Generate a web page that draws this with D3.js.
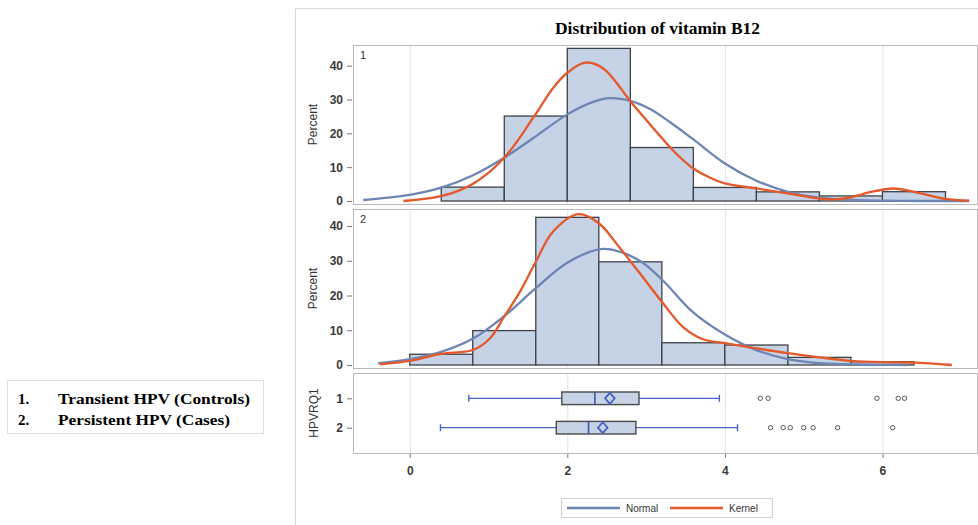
<!DOCTYPE html>
<html>
<head>
<meta charset="utf-8">
<script src="https://cdn.jsdelivr.net/npm/d3@7"></script>
<style>
  body { margin: 0; background: #fff; }
  svg { display: block; }
</style>
</head>
<body>
<svg id="chart" width="978" height="525"></svg>
<script>
const title = "Distribution of vitamin B12";
const xTicks = [0, 2, 4, 6];
const yTicks = [0, 10, 20, 30, 40];
const binWidth = 0.8;

// histogram bins (left edge) and percent per bin
const bins1 = [0.4, 1.2, 2.0, 2.8, 3.6, 4.4, 5.2, 6.0];
const pct1 = [4.1, 25.1, 45.1, 15.8, 4.0, 2.7, 1.5, 2.75];
const bins2 = [0, 0.8, 1.6, 2.4, 3.2, 4.0, 4.8, 5.6];
const pct2 = [3.1, 9.9, 42.5, 29.7, 6.4, 5.75, 2.2, 0.95];

// density curves: [x, percent]
const normal1 = [[-0.59, 0.3], [0, 1.8], [0.41, 4.0], [0.81, 7.7], [1.2, 12.8], [1.57, 18.6], [2.0, 25.6],
  [2.33, 29.3], [2.54, 30.4], [2.8, 29.6], [3.05, 27.2], [3.31, 23.2], [3.6, 18.2], [4.0, 11.1],
  [4.4, 6.0], [4.83, 2.5], [5.2, 1.0], [5.6, 0.3], [6.2, 0.05], [7.1, 0]];
const kernel1 = [[-0.08, 0], [0.41, 1.5], [0.81, 5.2], [1.2, 12.8], [1.57, 24.7], [1.82, 33.4], [2.0, 37.9],
  [2.23, 40.9], [2.46, 39.1], [2.8, 29.5], [3.0, 24.0], [3.2, 18.6], [3.4, 13.6], [3.6, 9.6], [3.8, 7.0],
  [4.0, 5.2], [4.4, 3.7], [4.83, 2.1], [5.2, 0.7], [5.4, 0.5], [5.6, 1.1], [5.84, 2.6], [6.14, 3.7],
  [6.44, 2.5], [6.8, 0.6], [7.1, 0.1]];
const normal2 = [[-0.4, 0.5], [0, 1.7], [0.4, 3.8], [0.81, 7.7], [1.19, 13.9], [1.6, 22.1], [1.99, 29.3],
  [2.4, 33.3], [2.58, 33.1], [2.92, 30.0], [3.21, 24.4], [3.59, 15.3], [4.0, 8.8],
  [4.4, 4.3], [4.8, 1.7], [5.2, 0.5], [5.6, 0.2], [6.3, 0]];
const kernel2 = [[-0.38, 0.2], [0, 1.2], [0.4, 3.2], [0.81, 4.4], [1.02, 7.7], [1.19, 13.6], [1.4, 21.1],
  [1.6, 29.7], [1.82, 38.4], [2.14, 43.4], [2.4, 40.8], [2.67, 33.6], [2.92, 26.4],
  [3.2, 18.2], [3.47, 10.9], [3.72, 7.4], [4.0, 6.3], [4.4, 4.8], [4.8, 3.4], [5.2, 2.2], [5.6, 1.2],
  [6.0, 0.8], [6.4, 0.7], [6.88, 0]];

// box plot by group
const groups = ["1", "2"];
const whiskLo = [0.75, 0.39];
const q1 = [1.93, 1.86];
const median = [2.35, 2.27];
const mean = [2.54, 2.45];
const q3 = [2.91, 2.87];
const whiskHi = [3.93, 4.16];
const outliers = [
  [4.45, 4.55, 5.93, 6.2, 6.28],
  [4.58, 4.74, 4.83, 5.0, 5.12, 5.43, 6.13]
];

const legendItems = ["Normal", "Kernel"];
const groupNames = ["Transient HPV (Controls)", "Persistent HPV (Cases)"];

const Color = {
  bar: "#c6d2e6", barLine: "#3e4248", normal: "#6d85b3", kernel: "#e5582a",
  whisker: "#4564c6", grid: "#e4e4e4", frame: "#b9b9b9", text: "#333"
};
const sans = "'Liberation Sans', Arial, sans-serif";
const serif = "'Liberation Serif', 'Times New Roman', serif";

const svg = d3.select("#chart");
const x = d3.scaleLinear().domain([-0.72, 7.2]).range([353, 977]);

// outer frame
svg.append("path").attr("d", "M295.5,525V8.5H978").attr("fill", "none").attr("stroke", "#d6d6d6");

svg.append("text").attr("x", 555).attr("y", 34)
  .attr("textLength", 205).attr("lengthAdjust", "spacingAndGlyphs")
  .attr("font-family", serif).attr("font-weight", "bold").attr("font-size", 16).text(title);

const panels = [
  { label: "1", top: 45, bottom: 204, zero: 201, ymax: 46.1, bins: bins1, pct: pct1, normal: normal1, kernel: kernel1 },
  { label: "2", top: 209, bottom: 368, zero: 365, ymax: 44.9, bins: bins2, pct: pct2, normal: normal2, kernel: kernel2 }
];

const _grid = (g, top, bottom) =>
  g.append("g").selectAll("line").data(xTicks).enter().append("line")
    .attr("x1", d => x(d) + 0.5).attr("x2", d => x(d) + 0.5)
    .attr("y1", top).attr("y2", bottom)
    .attr("stroke", Color.grid);

const _border = (g, top, bottom) =>
  g.append("rect").attr("x", 353.5).attr("y", top + 0.5)
    .attr("width", 977 - 353).attr("height", bottom - top)
    .attr("fill", "none").attr("stroke", Color.frame);

const _styleAxis = g => {
  g.select(".domain").remove();
  g.selectAll("line").attr("stroke", "#777");
  g.selectAll("text").attr("font-family", sans).attr("font-size", 12)
    .attr("font-weight", "bold").attr("fill", "#3a3a3a");
};

const _vLabel = (text, cx, cy) =>
  svg.append("text").attr("transform", `translate(${cx},${cy}) rotate(-90)`)
    .attr("text-anchor", "middle").attr("font-family", sans).attr("font-size", 12)
    .attr("fill", Color.text).text(text);

panels.forEach(p => {
  const y = d3.scaleLinear().domain([0, p.ymax]).range([p.zero, p.top]);
  const g = svg.append("g");
  _grid(g, p.top, p.bottom);

  g.append("g").selectAll("rect")
    .data(p.bins.map((b, i) => ({ x0: b, v: p.pct[i] })))
    .enter().append("rect")
    .attr("x", d => x(d.x0))
    .attr("width", d => x(d.x0 + binWidth) - x(d.x0))
    .attr("y", d => y(d.v))
    .attr("height", d => y(0) - y(d.v))
    .attr("fill", Color.bar).attr("stroke", Color.barLine).attr("stroke-width", 1.3);

  const line = d3.line().x(d => x(d[0])).y(d => Math.min(y(d[1]), p.zero)).curve(d3.curveCatmullRom.alpha(0.5));
  g.append("path").datum(p.normal).attr("d", line)
    .attr("fill", "none").attr("stroke", Color.normal).attr("stroke-width", 2.3);
  g.append("path").datum(p.kernel).attr("d", line)
    .attr("fill", "none").attr("stroke", Color.kernel).attr("stroke-width", 2.3);

  g.append("g").attr("transform", "translate(352,0)")
    .call(d3.axisLeft(y).tickValues(yTicks).tickSize(5).tickPadding(4))
    .call(_styleAxis);

  _border(g, p.top, p.bottom);
  g.append("text").attr("x", 360).attr("y", p.top + 14)
    .attr("font-family", sans).attr("font-size", 11).attr("fill", Color.text).text(p.label);
  _vLabel("Percent", 317, (p.top + p.bottom) / 2);
});

// box plot panel
const boxTop = 373, boxBottom = 453;
const yb = d3.scalePoint().domain(groups).range([boxTop, boxBottom]).padding(0.86);
const gb = svg.append("g");
_grid(gb, boxTop, boxBottom);

groups.forEach((grp, i) => {
  const c = yb(grp);
  const h = 6.3;
  const b = gb.append("g");
  b.append("line").attr("x1", x(whiskLo[i])).attr("x2", x(q1[i])).attr("y1", c).attr("y2", c)
    .attr("stroke", Color.whisker).attr("stroke-width", 1.3);
  b.append("line").attr("x1", x(q3[i])).attr("x2", x(whiskHi[i])).attr("y1", c).attr("y2", c)
    .attr("stroke", Color.whisker).attr("stroke-width", 1.3);
  [whiskLo[i], whiskHi[i]].forEach(v =>
    b.append("line").attr("x1", x(v)).attr("x2", x(v)).attr("y1", c - 3.5).attr("y2", c + 3.5)
      .attr("stroke", Color.whisker).attr("stroke-width", 1.4));
  b.append("rect").attr("x", x(q1[i])).attr("y", c - h)
    .attr("width", x(q3[i]) - x(q1[i])).attr("height", 2 * h)
    .attr("fill", Color.bar).attr("stroke", "#4a4a4a").attr("stroke-width", 1.4);
  b.append("line").attr("x1", x(median[i])).attr("x2", x(median[i])).attr("y1", c - h).attr("y2", c + h)
    .attr("stroke", "#3a55aa").attr("stroke-width", 1.6);
  const mx = x(mean[i]);
  b.append("path").attr("d", `M${mx},${c - 5.5}L${mx + 4.8},${c}L${mx},${c + 5.5}L${mx - 4.8},${c}Z`)
    .attr("fill", "none").attr("stroke", Color.whisker).attr("stroke-width", 1.8);
  b.selectAll("circle").data(outliers[i]).enter().append("circle")
    .attr("cx", d => x(d)).attr("cy", c).attr("r", 2.2)
    .attr("fill", "none").attr("stroke", "#555").attr("stroke-width", 1);
});

gb.append("g").attr("transform", "translate(352,0)")
  .call(d3.axisLeft(yb).tickSize(5).tickPadding(4))
  .call(_styleAxis);
gb.append("g").attr("transform", `translate(0,${boxBottom})`)
  .call(d3.axisBottom(x).tickValues(xTicks).tickSize(5).tickPadding(8))
  .call(_styleAxis);
_border(gb, boxTop, boxBottom);
_vLabel("HPVRQ1", 318, (boxTop + boxBottom) / 2);

// curve legend
const lg = svg.append("g");
lg.append("rect").attr("x", 561.5).attr("y", 498.5).attr("width", 211).attr("height", 19)
  .attr("fill", "#fff").attr("stroke", "#d0d0d0");
const legendColors = [Color.normal, Color.kernel];
const legendX = [567, 670];
legendItems.forEach((name, i) => {
  lg.append("line").attr("x1", legendX[i]).attr("x2", legendX[i] + 53).attr("y1", 508).attr("y2", 508)
    .attr("stroke", legendColors[i]).attr("stroke-width", 2.3);
  lg.append("text").attr("x", legendX[i] + 59).attr("y", 511.5)
    .attr("font-family", sans).attr("font-size", 10).attr("fill", Color.text).text(name);
});

// group key on the left
const kg = svg.append("g");
kg.append("rect").attr("x", 7.5).attr("y", 380.5).attr("width", 256).attr("height", 53)
  .attr("fill", "none").attr("stroke", "#dedede");
const keyWidths = [192, 172];
groupNames.forEach((name, i) => {
  const yy = 404 + i * 21;
  kg.append("text").attr("x", 18).attr("y", yy).attr("font-family", serif).attr("font-weight", "bold")
    .attr("font-size", 15).text(`${groups[i]}.`);
  kg.append("text").attr("x", 58).attr("y", yy).attr("font-family", serif).attr("font-weight", "bold")
    .attr("font-size", 15).attr("textLength", keyWidths[i]).attr("lengthAdjust", "spacingAndGlyphs")
    .text(name);
});
</script>
</body>
</html>
